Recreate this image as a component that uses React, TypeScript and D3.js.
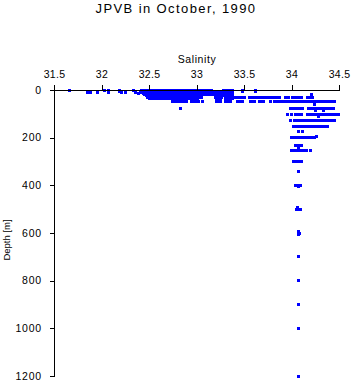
import React from 'react';
import * as d3 from 'd3';

// single CTD samples: [salinity, depth]
const points: [number, number][] = [
  [31.66, 0], [31.85, 12], [31.88, 12], [31.95, 12], [32.03, 0],
  [32.07, 0], [32.07, 5], [32.07, 12], [32.18, 0], [32.18, 5],
  [32.21, 12], [32.25, 12], [32.33, 0], [32.35, 10], [32.38, 14],
  [33.48, 0], [33.48, 5], [33.62, 0], [33.62, 5], [34.2, 20],
  [33.87, 31], [33.06, 50], [33.77, 50], [34.24, 61],
  [32.83, 78], [34.25, 84], [34.33, 84], [33.95, 103], [33.99, 103],
  [34.28, 110], [33.98, 128], [34.07, 176], [34.11, 176], [34.26, 195],
  [34.07, 240], [33.99, 254], [34.19, 254], [34.07, 340], [34.07, 405],
  [34.06, 495], [34.07, 595], [34.08, 600], [34.07, 605],
  [34.07, 700], [34.07, 800], [34.07, 900], [34.07, 1000], [34.07, 1200],
];

// dense runs of samples at one depth: [depth, salinity from, salinity to]
const runs: [number, number, number][] = [
  [0, 32.42, 33.15], [0, 33.28, 33.37],
  [5, 32.41, 33.37],
  [10, 32.40, 33.37],
  [15, 32.44, 33.37],
  [20, 32.45, 33.37],
  [25, 32.47, 33.02], [25, 33.19, 33.37],
  [30, 32.48, 33.05], [30, 33.19, 33.26], [30, 33.30, 33.37],
  [31, 33.41, 33.5], [31, 33.55, 33.6], [31, 33.63, 33.84],
  [31, 33.93, 33.96], [31, 34.0, 34.03], [31, 34.05, 34.1], [31, 34.16, 34.22],
  [35, 32.5, 33.0], [35, 33.2, 33.25], [35, 33.3, 33.37],
  [50, 32.74, 32.89], [50, 32.94, 33.02], [50, 33.2, 33.25], [50, 33.3, 33.35],
  [50, 33.43, 33.48], [50, 33.56, 33.6], [50, 33.66, 33.7], [50, 33.82, 34.45],
  [78, 33.98, 34.02], [78, 34.04, 34.11], [78, 34.17, 34.44],
  [103, 34.04, 34.1], [103, 34.16, 34.49],
  [128, 34.03, 34.45],
  [153, 34.02, 34.37],
  [200, 33.99, 34.24],
  [233, 34.04, 34.1],
  [254, 34.03, 34.15],
  [302, 34.02, 34.1],
  [400, 34.04, 34.09],
  [500, 34.05, 34.09],
];

const salinityTicks = [31.5, 32, 32.5, 33, 33.5, 34, 34.5];
const depthTicks = [0, 200, 400, 600, 800, 1000, 1200];

const title = 'JPVB in October, 1990';
const font = '"Liberation Sans", Arial, Helvetica, sans-serif';
const blue = '#0000ff';

export default function App() {
  const width = 353;
  const height = 384;

  const x = d3.scaleLinear().domain([31.5, 34.5]).range([54.5, 339.5]);
  const y = d3.scaleLinear().domain([0, 1200]).range([90, 376]);
  const fmt = d3.format('~g');
  const m = 1.5; // half marker size

  return (
    <svg width={width} height={height} style={{position: 'absolute', left: 0, top: 0}}
         fontFamily={font}>
      <rect width={width} height={height} fill="#fff" />
      <text x={176} y={13} textAnchor="middle" fontSize={13} letterSpacing={1.4}>{title}</text>

      <g fill={blue} shapeRendering="crispEdges">
        {runs.map((r, i) => (
          <rect key={'r' + i} x={x(r[1]) - m} y={y(r[0]) - m}
                width={x(r[2]) - x(r[1]) + 2 * m} height={2 * m} />
        ))}
        {points.map((p, i) => (
          <rect key={'p' + i} x={x(p[0]) - m} y={y(p[1]) - m} width={2 * m} height={2 * m} />
        ))}
      </g>

      <g stroke="#000" shapeRendering="crispEdges">
        <line x1={x.range()[0]} x2={x.range()[1]} y1={y(0) + 0.5} y2={y(0) + 0.5} />
        <line x1={x.range()[0]} x2={x.range()[0]} y1={y(0)} y2={y(1200)} />
        {salinityTicks.map(t => (
          <line key={t} x1={x(t)} x2={x(t)} y1={y(0) - 5} y2={y(0)} />
        ))}
        {depthTicks.map(t => (
          <line key={t} x1={x.range()[0] - 5} x2={x.range()[0]} y1={y(t) + 0.5} y2={y(t) + 0.5} />
        ))}
      </g>

      <g fontSize={10.5}>
        {salinityTicks.map(t => (
          <text key={t} x={x(t)} y={78} textAnchor="middle" letterSpacing={0.3}>{fmt(t)}</text>
        ))}
        {depthTicks.map(t => (
          <text key={t} x={42} y={y(t)} dy="0.35em" textAnchor="end" letterSpacing={0.8}>{t}</text>
        ))}
      </g>

      <text x={(x.range()[0] + x.range()[1]) / 2} y={63} textAnchor="middle" fontSize={10.5}
            letterSpacing={0.6}>Salinity</text>
      <text transform="translate(9.5,240) rotate(-90)" textAnchor="middle" fontSize={9.5}>Depth [m]</text>
    </svg>
  );
}
